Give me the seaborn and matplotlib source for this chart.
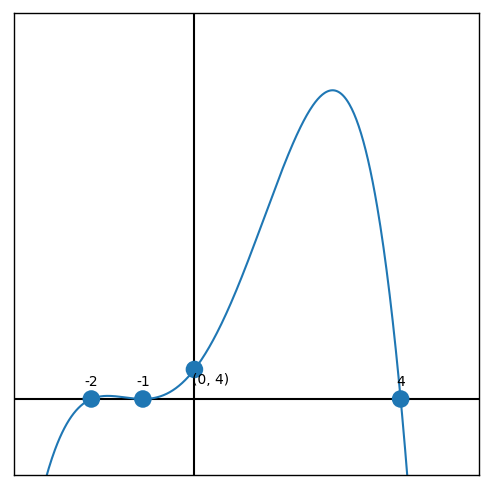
import numpy as np
import pandas as pd
import matplotlib
matplotlib.use('Agg')
import matplotlib.pyplot as plt
import seaborn as sns

# quartic through the marked points: f(x) = -0.5 (x+2)(x+1)^2 (x-4)
roots = [-2, -1, -1, 4]
lead = -0.5
root_labels = ['-2', '-1', '4']
root_x = [-2, -1, 4]
intercept = (0, 4)

poly = lead * np.poly1d(roots, r=True)
xs = np.linspace(-3.5, 5.5, 600)
curve = pd.DataFrame({'x': xs, 'y': poly(xs)})
pts = pd.DataFrame({'x': root_x + [intercept[0]], 'y': [0, 0, 0, intercept[1]]})

sns.set_style('white')
plt.rcParams['text.color'] = 'black'
fig = plt.figure(figsize=(4.92, 4.89), dpi=100)
ax = fig.add_axes([14 / 492, 13 / 489, 465 / 492, 462 / 489])

ax.axhline(0, color='black', lw=1.5, zorder=1)
ax.axvline(0, color='black', lw=1.5, zorder=1)
sns.lineplot(data=curve, x='x', y='y', ax=ax, color='#1f77b4', lw=1.5, zorder=2)
sns.scatterplot(data=pts, x='x', y='y', ax=ax, color='#1f77b4', s=160,
                edgecolor='none', zorder=3)

for lab, rx in zip(root_labels, root_x):
    ax.annotate(lab, (rx, 0), xytext=(0, 8), textcoords='offset points',
                ha='center', va='bottom', fontsize=10, color='black')
ax.annotate('(0, 4)', intercept, xytext=(-1.5, -2), textcoords='offset points',
            ha='left', va='top', fontsize=10, color='black')

ax.set_xlim(-3.5, 5.52)
ax.set_ylim(-10.3, 52.3)
ax.set_xticks([])
ax.set_yticks([])
ax.set_xlabel('')
ax.set_ylabel('')
for sp in ax.spines.values():
    sp.set_color('black')
    sp.set_linewidth(1.0)

fig.savefig('out.png', dpi=100)
plt.close(fig)
